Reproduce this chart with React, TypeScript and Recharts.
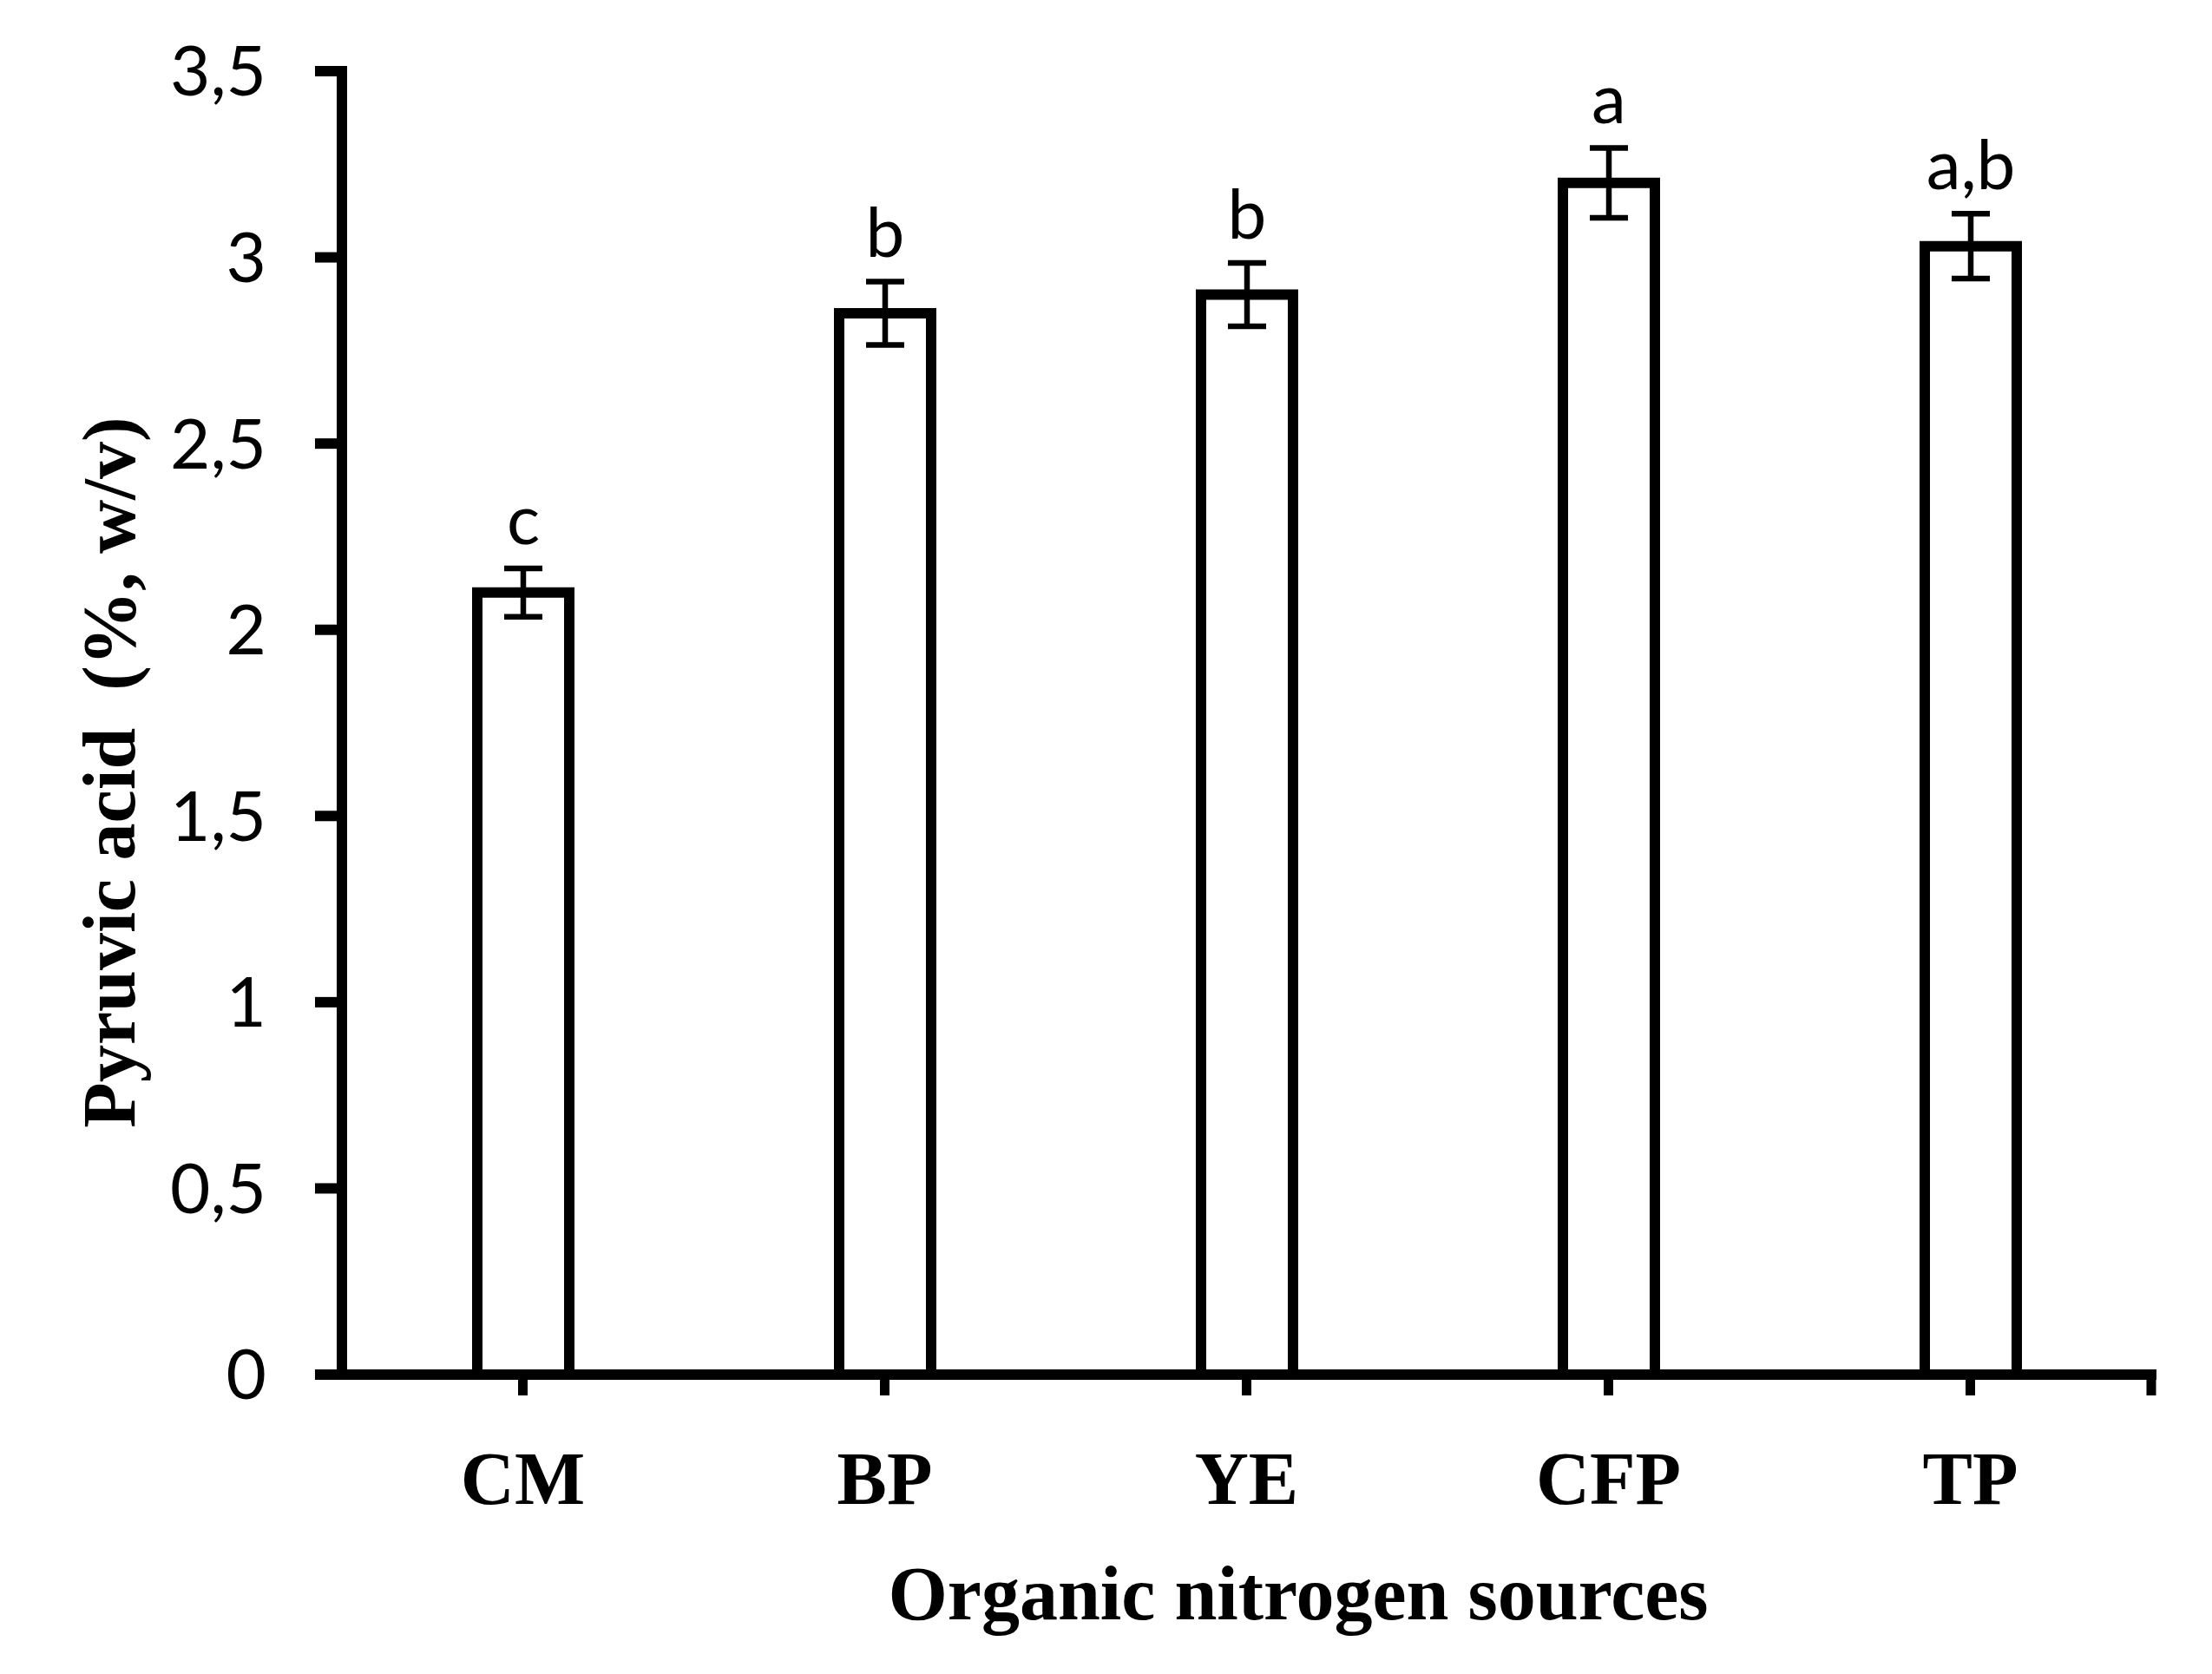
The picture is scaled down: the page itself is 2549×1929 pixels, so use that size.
import React from 'react';
import { BarChart, Bar, XAxis, YAxis, ErrorBar, LabelList } from 'recharts';

const categories = ['CM', 'BP', 'YE', 'CFP', 'TP'];
const pyruvicAcid = [2.1, 2.85, 2.9, 3.2, 3.03];
const stdError = [0.065, 0.085, 0.085, 0.094, 0.087];
const significance = ['c', 'b', 'b', 'a', 'a,b'];
const yTicks = [0, 0.5, 1, 1.5, 2, 2.5, 3, 3.5];

const data = categories.map((name, i) => ({
  name,
  value: pyruvicAcid[i],
  err: stdError[i],
  sig: significance[i],
}));

const SERIF = '"Liberation Serif", "Times New Roman", serif';
const SANS = 'Lato, "Open Sans", sans-serif';

function XTick(props: any) {
  const { x, y, payload, index } = props;
  const isLast = index === categories.length - 1;
  const off = payload && payload.offset ? payload.offset : 0;
  return (
    <g>
      <text
        x={x}
        y={y + 125}
        textAnchor="middle"
        fontFamily={SERIF}
        fontWeight="bold"
        fontSize={86}
        fill="#000"
      >
        {payload.value}
      </text>
      {isLast && off ? (
        <line x1={x + off} x2={x + off} y1={y - 30} y2={y} stroke="#000" strokeWidth={11} />
      ) : null}
    </g>
  );
}

function SigLabel(props: any) {
  const vb = props.viewBox && props.viewBox.width !== undefined ? props.viewBox : props;
  const x = Number(vb.x);
  const y = Number(vb.y);
  const width = Number(vb.width);
  const height = Number(vb.height);
  const index = props.index;
  const v = pyruvicAcid[index];
  const e = stdError[index];
  const pxPerUnit = height / v;
  const top = y - e * pxPerUnit;
  return (
    <text
      x={x + width / 2}
      y={top - 28}
      textAnchor="middle"
      fontFamily={SANS}
      fontSize={80}
      fill="#000"
    >
      {props.value}
    </text>
  );
}

function YTitle() {
  return (
    <text
      x={155}
      y={890}
      transform="rotate(-90, 155, 890)"
      textAnchor="middle"
      fontFamily={SERIF}
      fontWeight="bold"
      fontSize={86}
      fill="#000"
      style={{ whiteSpace: 'pre' }}
    >
      {'Pyruvic acid  (%, w/v)'}
    </text>
  );
}

function XTitle() {
  return (
    <text
      x={1496}
      y={1866}
      textAnchor="middle"
      fontFamily={SERIF}
      fontWeight="bold"
      fontSize={88}
      fill="#000"
    >
      Organic nitrogen sources
    </text>
  );
}

export default function App() {
  return (
    <div style={{ position: 'absolute', left: 0, top: 0, background: '#fff' }}>
      <BarChart
        width={2549}
        height={1929}
        data={data}
        margin={{ top: 82, right: 70, bottom: 245, left: 94 }}
      >
        <XAxis
          dataKey="name"
          height={100}
          tickSize={24}
          tickMargin={0}
          axisLine={{ stroke: '#000', strokeWidth: 12, strokeLinecap: 'square' }}
          tickLine={{ stroke: '#000', strokeWidth: 11 }}
          tick={<XTick />}
          interval={0}
          label={<XTitle />}
        />
        <YAxis
          width={300}
          domain={[0, 3.5]}
          ticks={yTicks}
          interval={0}
          tickSize={31}
          tickMargin={56}
          axisLine={{ stroke: '#000', strokeWidth: 12, strokeLinecap: 'square' }}
          tickLine={{ stroke: '#000', strokeWidth: 12 }}
          tick={{ fill: '#000', fontSize: 80, fontFamily: SANS }}
          tickFormatter={(v: number) => String(v).replace('.', ',')}
          label={<YTitle />}
        />
        <Bar
          dataKey="value"
          fill="#fff"
          stroke="#000"
          strokeWidth={12}
          barSize={106}
          isAnimationActive={false}
        >
          <ErrorBar
            dataKey="err"
            width={22}
            stroke="#000"
            strokeWidth={6.5}
            direction="y"
            isAnimationActive={false}
          />
          <LabelList dataKey="sig" content={<SigLabel />} />
        </Bar>
      </BarChart>
    </div>
  );
}
